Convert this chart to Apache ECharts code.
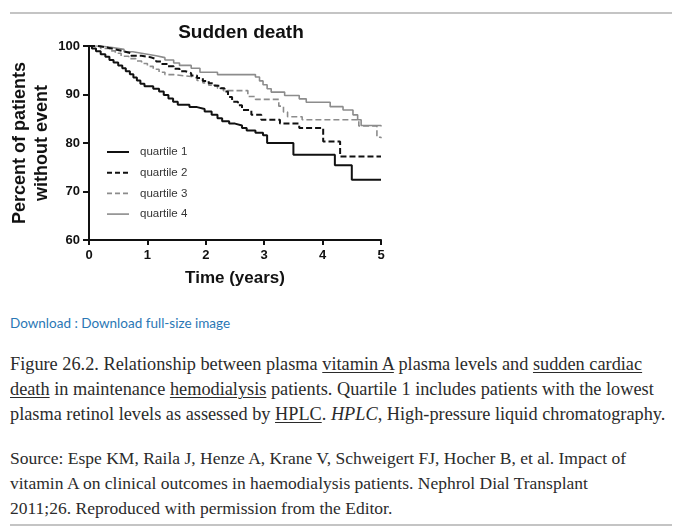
<!DOCTYPE html>
<html>
<head>
<meta charset="utf-8">
<script src="https://cdn.jsdelivr.net/npm/echarts@6/dist/echarts.min.js"></script>
<style>
  html, body { margin: 0; padding: 0; background: #fff; width: 684px; height: 531px; overflow: hidden; }
  #chart { position: absolute; left: 0; top: 0; width: 684px; height: 300px; }
  .rule { position: absolute; left: 10px; width: 662px; height: 0; border-top: 2px solid #c4c4c4; }
  .dl { position: absolute; left: 10px; top: 315px; font-family: Lato, "Open Sans", sans-serif; font-size: 13.5px; color: #2a77b5; white-space: nowrap; }
  .cap { position: absolute; left: 10px; font-family: "Liberation Serif", serif; line-height: 25px; color: #2b2b2b; white-space: nowrap; }
  .cap u { text-decoration-thickness: 1px; text-underline-offset: 2px; }
</style>
</head>
<body>
<div class="rule" style="top:12px"></div>
<div id="chart"></div>
<div class="dl">Download : Download full-size image</div>
<div class="cap" style="top:352px; font-size:18.3px">Figure 26.2. Relationship between plasma <u>vitamin A</u> plasma levels and <u>sudden cardiac</u><br><u>death</u> in maintenance <u>hemodialysis</u> patients. Quartile 1 includes patients with the lowest<br>plasma retinol levels as assessed by <u>HPLC</u>. <i>HPLC</i>, High-pressure liquid chromatography.</div>
<div class="cap" style="top:446px; font-size:17.5px">Source: Espe KM, Raila J, Henze A, Krane V, Schweigert FJ, Hocher B, et al. Impact of<br>vitamin A on clinical outcomes in haemodialysis patients. Nephrol Dial Transplant<br>2011;26. Reproduced with permission from the Editor.</div>
<div class="rule" style="top:524px"></div>
<script>
// Kaplan-Meier step curves: time (years) and percent without event
var q1Time = [0, 0.05, 0.12, 0.2, 0.28, 0.35, 0.42, 0.5, 0.57, 0.63, 0.7, 0.76, 0.82, 0.88, 0.95, 1.1, 1.2, 1.28, 1.36, 1.44, 1.52, 1.72, 1.85, 1.98, 2.1, 2.2, 2.28, 2.4, 2.5, 2.62, 2.7, 2.85, 2.98, 3.05, 3.5, 4.21, 4.5, 5.0];
var q1Val  = [100, 99.5, 98.9, 98.3, 97.8, 97.1, 96.6, 96.0, 95.4, 94.8, 94.2, 93.5, 92.9, 92.2, 91.7, 91.2, 90.6, 89.9, 89.2, 88.5, 87.9, 87.4, 87.0, 86.5, 85.8, 85.1, 84.5, 84.0, 83.6, 83.1, 82.6, 82.1, 81.6, 80.0, 77.6, 75.4, 72.4, 72.4];

var q2Time = [0, 0.15, 0.3, 0.45, 0.6, 0.72, 0.9, 1.05, 1.15, 1.25, 1.35, 1.45, 1.55, 1.65, 1.75, 1.85, 1.95, 2.05, 2.15, 2.25, 2.32, 2.38, 2.45, 2.55, 2.62, 2.78, 2.95, 3.27, 3.6, 4.01, 4.3, 5.0];
var q2Val  = [100, 99.7, 99.3, 98.9, 98.5, 98.0, 97.7, 97.3, 96.8, 96.3, 95.8, 95.3, 94.8, 94.4, 93.9, 93.4, 92.8, 92.3, 91.8, 91.3, 90.6, 89.5, 88.5, 87.8, 86.8, 85.8, 84.8, 84.0, 83.1, 80.3, 77.2, 77.2];

var q3Time = [0, 0.2, 0.35, 0.45, 0.55, 0.68, 0.8, 0.9, 1.0, 1.1, 1.2, 1.3, 1.45, 1.75, 1.85, 1.95, 2.05, 2.2, 2.3, 2.72, 2.85, 3.25, 3.33, 3.4, 3.65, 4.62, 4.93, 5.0];
var q3Val  = [100, 99.5, 99.0, 98.5, 97.9, 97.4, 96.9, 96.4, 95.8, 95.2, 94.6, 94.1, 93.7, 93.4, 92.9, 92.4, 91.9, 91.3, 90.8, 89.6, 89.0, 87.6, 86.4, 85.4, 84.8, 83.5, 81.2, 81.0];

var q4Time = [0, 0.2, 0.4, 0.6, 0.75, 0.95, 1.15, 1.3, 1.45, 1.55, 1.75, 1.9, 2.2, 2.85, 2.92, 2.98, 3.05, 3.12, 3.35, 3.6, 3.72, 4.13, 4.35, 4.52, 4.6, 4.66, 5.0];
var q4Val  = [100, 99.7, 99.3, 98.8, 98.4, 98.0, 97.6, 97.1, 96.5, 96.0, 95.4, 94.6, 94.1, 93.6, 92.8, 92.0, 91.2, 90.5, 89.8, 89.1, 88.4, 87.5, 86.8, 85.8, 84.8, 83.6, 83.4];

var seriesNames = ['quartile 1', 'quartile 2', 'quartile 3', 'quartile 4'];
var xTicks = [0, 1, 2, 3, 4, 5];
var yTicks = [60, 70, 80, 90, 100];

function pairs(t, v) { return t.map(function (x, i) { return [x, v[i]]; }); }

var chart = echarts.init(document.getElementById('chart'), null, { renderer: 'canvas' });
var FONT = 'Liberation Sans, Arial, sans-serif';
var styles = [
  { color: '#111', type: 'solid', width: 2 },
  { color: '#111', type: [6, 3], width: 2 },
  { color: '#8c8c8c', type: [6, 3], width: 1.6 },
  { color: '#8c8c8c', type: 'solid', width: 1.6 }
];
var datas = [pairs(q1Time, q1Val), pairs(q2Time, q2Val), pairs(q3Time, q3Val), pairs(q4Time, q4Val)];

// legend drawn as graphic elements inside the plot
var legendGraphics = [];
seriesNames.forEach(function (n, i) {
  var y = 152 + i * 20.7;
  legendGraphics.push({
    type: 'line', shape: { x1: 107, y1: y, x2: 129, y2: y },
    style: { stroke: styles[i].color, lineWidth: styles[i].width, lineDash: styles[i].type === 'solid' ? null : [5, 3] }
  });
  legendGraphics.push({
    type: 'text', x: 140, y: y,
    style: { text: n, fill: '#333', font: '11.5px ' + FONT, verticalAlign: 'middle', textAlign: 'left' }
  });
});

chart.setOption({
  animation: false,
  title: {
    text: 'Sudden death', left: 236, top: 18, textAlign: 'center',
    textStyle: { fontFamily: FONT, fontWeight: 'bold', fontSize: 19, color: '#111' }
  },
  graphic: legendGraphics,
  grid: { left: 89, top: 46, width: 292, height: 194, containLabel: false },
  xAxis: {
    type: 'value', min: 0, max: 5, interval: 1,
    name: 'Time (years)', nameLocation: 'middle', nameGap: 30,
    nameTextStyle: { fontFamily: FONT, fontWeight: 'bold', fontSize: 17, color: '#111' },
    axisLine: { lineStyle: { color: '#111', width: 2 } },
    axisTick: { show: true, length: 5, lineStyle: { color: '#111', width: 2 } },
    axisLabel: { margin: 9, fontFamily: FONT, fontWeight: 'bold', fontSize: 13, color: '#111',
      formatter: function (v) { return xTicks.indexOf(v) >= 0 ? String(v) : ''; } },
    splitLine: { show: false }
  },
  yAxis: {
    type: 'value', min: 60, max: 100, interval: 10,
    name: 'Percent of patients\nwithout event', nameLocation: 'middle', nameGap: 36, nameRotate: 90,
    nameTextStyle: { fontFamily: FONT, fontWeight: 'bold', fontSize: 18, color: '#111', lineHeight: 22 },
    axisLine: { show: true, lineStyle: { color: '#111', width: 2 } },
    axisTick: { show: true, length: 6, lineStyle: { color: '#111', width: 2 } },
    axisLabel: { margin: 9, fontFamily: FONT, fontWeight: 'bold', fontSize: 13, color: '#111',
      formatter: function (v) { return yTicks.indexOf(v) >= 0 ? String(v) : ''; } },
    splitLine: { show: false }
  },
  series: datas.map(function (d, i) {
    return {
      name: seriesNames[i], type: 'line', step: 'end', data: d, showSymbol: false, symbol: 'none',
      lineStyle: styles[i], itemStyle: { color: styles[i].color }, z: 10 - i
    };
  })
});
</script>
</body>
</html>
